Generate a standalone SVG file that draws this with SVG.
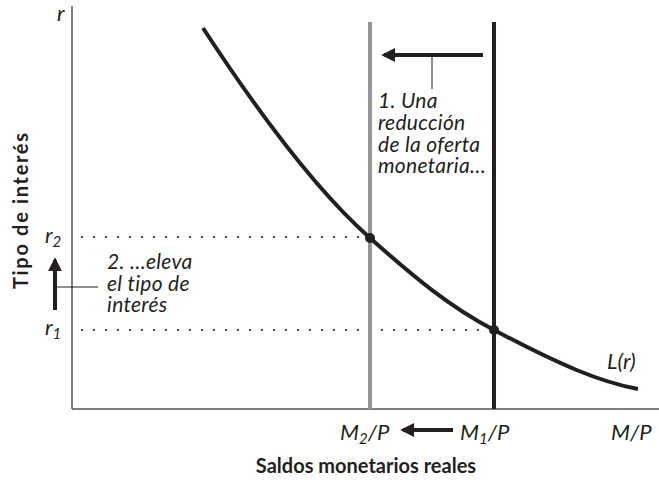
<svg xmlns="http://www.w3.org/2000/svg" width="659" height="480" viewBox="0 0 659 480">
<defs>
<style>
.ax{stroke:#555;stroke-width:1.5;fill:none}
.dot{stroke:#231f20;stroke-width:2.2;stroke-linecap:round;stroke-dasharray:0 12;fill:none}
.thick{stroke:#231f20;stroke-width:4;fill:none}
.lead{stroke:#231f20;stroke-width:1;fill:none}
.it{font-family:"Lato","Liberation Sans",sans-serif;font-style:italic;font-size:22px;fill:#231f20}
.note{font-size:21px;letter-spacing:0.3px}
.bold{font-family:"Lato","Liberation Sans",sans-serif;font-weight:bold;font-size:20px;fill:#231f20}
.sub{font-size:15px}
</style>
<marker id="ah" viewBox="0 0 10 10" refX="8" refY="5" markerWidth="3.5" markerHeight="3.5" orient="auto" markerUnits="strokeWidth">
<path d="M0,0 L10,5 L0,10 z" fill="#231f20"/>
</marker>
</defs>
<rect width="659" height="480" fill="#fff"/>
<g id="axes">
<line class="ax" x1="72" y1="6" x2="72" y2="409"/>
<line class="ax" x1="72" y1="409" x2="659" y2="409"/>
</g>
<g id="connectors">
<line class="dot" x1="82" y1="237" x2="366" y2="237"/>
<line class="dot" x1="82" y1="330" x2="490" y2="330"/>
<line class="lead" x1="432" y1="56" x2="432" y2="89"/>
<line class="lead" x1="55" y1="287" x2="98" y2="287"/>
<line class="thick" x1="483" y1="55" x2="384" y2="55" marker-end="url(#ah)"/>
<line class="thick" x1="55" y1="310" x2="55" y2="260" marker-end="url(#ah)"/>
<line class="thick" x1="453" y1="430" x2="403" y2="430" marker-end="url(#ah)"/>
</g>
<g id="supply2"><line x1="370" y1="22" x2="370" y2="409" stroke="#969696" stroke-width="4"/></g>
<g id="supply1"><line x1="494" y1="22" x2="494" y2="409" stroke="#231f20" stroke-width="4"/></g>
<g id="demand">
<path class="thick" d="M203,28 C250,100 310,185 370,238 C415,278 450,307 494,330 C560,365 600,382 638,389"/>
<text class="it" x="607" y="369">L(r)</text>
</g>
<g id="eq2"><circle cx="370" cy="238" r="5" fill="#231f20"/></g>
<g id="eq1"><circle cx="494" cy="330" r="5" fill="#231f20"/></g>
<g id="labels">
<text class="it" x="57" y="21">r</text>
<text class="it" x="45" y="243">r<tspan class="sub" dy="4">2</tspan></text>
<text class="it" x="45" y="335">r<tspan class="sub" dy="4">1</tspan></text>
<text class="it" x="340" y="440">M<tspan class="sub" dy="4">2</tspan><tspan dy="-4">/P</tspan></text>
<text class="it" x="460" y="440">M<tspan class="sub" dy="4">1</tspan><tspan dy="-4">/P</tspan></text>
<text class="it" x="611" y="440">M/P</text>
<text class="it note" x="378" y="108">1. Una</text>
<text class="it note" x="378" y="130">reducción</text>
<text class="it note" x="378" y="152">de la oferta</text>
<text class="it note" x="378" y="173">monetaria…</text>
<text class="it note" x="107" y="269">2. …eleva</text>
<text class="it note" x="107" y="291">el tipo de</text>
<text class="it note" x="107" y="312">interés</text>
<text class="bold" x="366" y="473" text-anchor="middle">Saldos monetarios reales</text>
<text class="bold" transform="translate(28,211) rotate(-90)" text-anchor="middle" textLength="156" lengthAdjust="spacing">Tipo de interés</text>
</g>
</svg>
